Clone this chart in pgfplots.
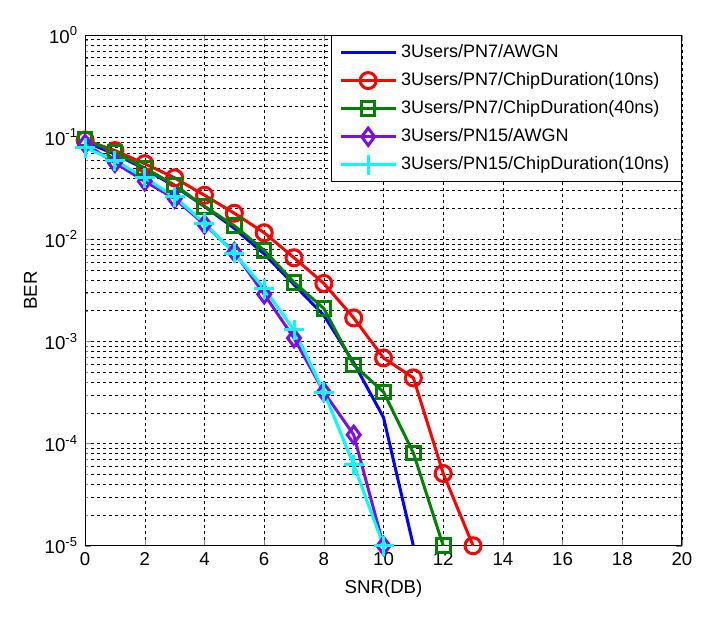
\documentclass[border=0pt]{standalone}
\usepackage{pgfplots}
\pgfplotsset{compat=1.18}
\usepackage{fontspec}
\setmainfont{Liberation Sans}
\usetikzlibrary{calc}
\definecolor{mblue}{rgb}{0,0,1}
\definecolor{mred}{rgb}{1,0,0}
\definecolor{mgreen}{rgb}{0,0.5,0}
\definecolor{mpurple}{rgb}{0.49,0.06,0.9}
\definecolor{mcyan}{rgb}{0,1,1}
\begin{document}
\begin{tikzpicture}
\begin{axis}[
  scale only axis, width=298pt, height=255pt,
  ymode=log, xmin=0, xmax=20, ymin=1e-5, ymax=1,
  xtick={0,2,...,20},
  ytick={1e-5,1e-4,1e-3,1e-2,1e-1,1},
  yticklabels={10\textsuperscript{-5},10\textsuperscript{-4},10\textsuperscript{-3},10\textsuperscript{-2},10\textsuperscript{-1},10\textsuperscript{0}},
  /pgf/number format/assume math mode=true,
  tick label style={font=\fontsize{9.3}{11}\selectfont},
  label style={font=\fontsize{9.3}{11}\selectfont},
  xlabel={SNR(DB)}, ylabel={BER},
  ylabel style={yshift=-3pt},
  grid=both,
  major grid style={black, line width=0.3pt, dash pattern=on 1.5pt off 1.5pt},
  minor grid style={black, line width=0.3pt, dash pattern=on 1.5pt off 1.5pt},
  minor x tick num=0,
  xminorgrids=false,
  tick align=inside,
  axis line style={line width=0.5pt},
  major tick length=3pt, minor tick length=1.5pt,
  legend style={at={(rel axis cs:1,1)}, anchor=north east, draw=black, fill=white, font=\fontsize{9}{11}\selectfont, row sep=2pt, inner xsep=4pt, inner ysep=2.5pt},
  legend cell align=left,
  legend image code/.code={\draw[mark repeat=2,mark phase=2,#1] plot coordinates {(0cm,0cm) (0.48cm,0cm) (0.96cm,0cm)};},
  every axis plot/.append style={line width=1.5pt},
]
\addplot[mblue, no markers] coordinates {
(0,0.090) (1,0.068) (2,0.049) (3,0.033) (4,0.021) (5,0.0128) (6,0.0072) (7,0.0036) (8,0.0018) (9,0.00062) (10,0.00018) (11,1e-5)};
\addlegendentry{3Users/PN7/AWGN}
\addplot[mred, mark=o, mark size=4pt, mark options={solid}] coordinates {
(0,0.094) (1,0.074) (2,0.055) (3,0.040) (4,0.027) (5,0.018) (6,0.0116) (7,0.0066) (8,0.0037) (9,0.0017) (10,0.00069) (11,0.00044) (12,5.1e-5) (13,1e-5)};
\addlegendentry{3Users/PN7/ChipDuration(10ns)}
\addplot[mgreen, mark=square, mark size=3.4pt] coordinates {
(0,0.096) (1,0.071) (2,0.050) (3,0.034) (4,0.021) (5,0.0136) (6,0.0078) (7,0.0038) (8,0.0021) (9,0.00059) (10,0.00032) (11,8.1e-5) (12,1e-5)};
\addlegendentry{3Users/PN7/ChipDuration(40ns)}
\addplot[mpurple, mark=diamond, mark size=4.3pt] coordinates {
(0,0.086) (1,0.056) (2,0.037) (3,0.025) (4,0.014) (5,0.0075) (6,0.0029) (7,0.00108) (8,0.00032) (9,0.000122) (10,1e-5)};
\addlegendentry{3Users/PN15/AWGN}
\addplot[mcyan, mark=+, mark size=5pt] coordinates {
(0,0.079) (1,0.059) (2,0.040) (3,0.026) (4,0.0144) (5,0.0073) (6,0.0033) (7,0.0013) (8,0.00032) (9,6.2e-5) (10,1e-5)};
\addlegendentry{3Users/PN15/ChipDuration(10ns)}
\end{axis}
\pgfresetboundingbox
\path ($(current axis.south west)+(-42.5pt,-35.5pt)$) rectangle ($(current axis.north east)+(18pt,17.5pt)$);
\end{tikzpicture}
\end{document}
